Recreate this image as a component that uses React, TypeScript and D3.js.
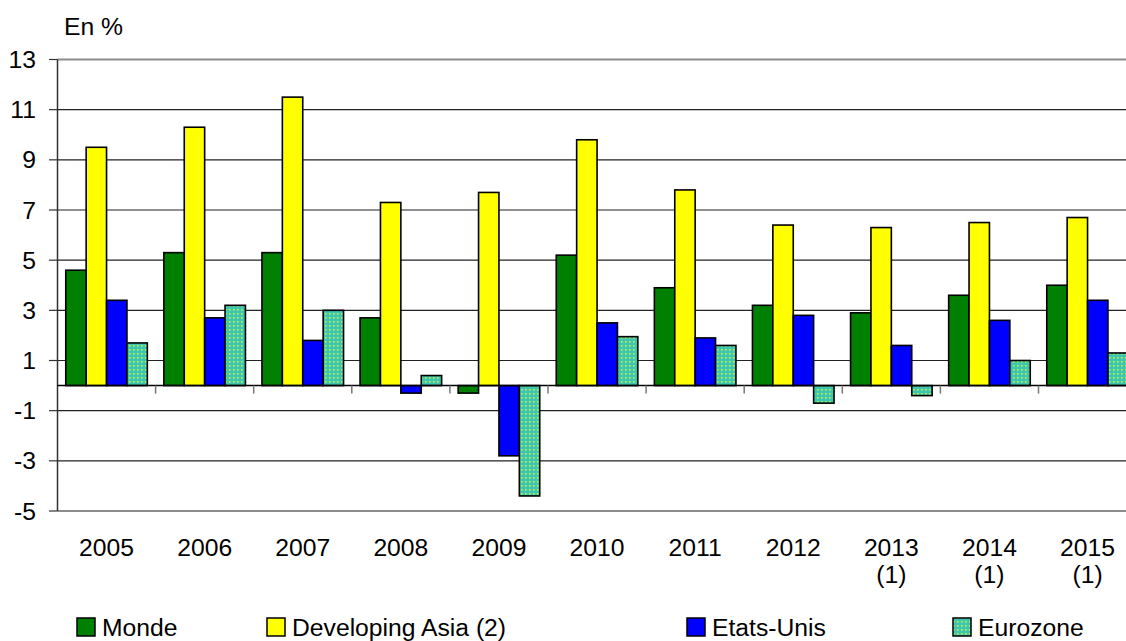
import React from "react";
import * as d3 from "d3";

const categories = ["2005", "2006", "2007", "2008", "2009", "2010", "2011", "2012", "2013", "2014", "2015"];
const categoryNotes = ["", "", "", "", "", "", "", "", "(1)", "(1)", "(1)"];
const seriesNames = ["Monde", "Developing Asia (2)", "Etats-Unis", "Eurozone"];
const monde = [4.6, 5.3, 5.3, 2.7, -0.3, 5.2, 3.9, 3.2, 2.9, 3.6, 4.0];
const developingAsia = [9.5, 10.3, 11.5, 7.3, 7.7, 9.8, 7.8, 6.4, 6.3, 6.5, 6.7];
const etatsUnis = [3.4, 2.7, 1.8, -0.3, -2.8, 2.5, 1.9, 2.8, 1.6, 2.6, 3.4];
const eurozone = [1.7, 3.2, 3.0, 0.4, -4.4, 1.95, 1.6, -0.7, -0.4, 1.0, 1.3];
const yTicks = [13, 11, 9, 7, 5, 3, 1, -1, -3, -5];

const seriesValues = [monde, developingAsia, etatsUnis, eurozone];
const seriesFills = ["#008000", "#FFFF00", "#0000FF", "url(#confetti)"];

const W = 1126;
const H = 641;
const FONT = "'Liberation Sans', Arial, sans-serif";
const FS = 24.7;

export default function App() {
  const plotLeft = 57.5;
  const step = 98.1;
  const x0 = d3
    .scaleBand<string>()
    .domain(categories)
    .range([plotLeft, plotLeft + step * categories.length])
    .padding(0);
  const bw = x0.bandwidth();
  const barW = bw / (4 + 0.81);
  const groupOffset = (bw - barW * 4) / 2;
  const y = d3.scaleLinear().domain([-5, 13]).range([511, 59.5]);
  const y0 = y(0);

  return (
    <svg
      width={W}
      height={H}
      style={{ position: "absolute", left: 0, top: 0, background: "#fff" }}
      fontFamily={FONT}
    >
      <defs>
        <pattern id="confetti" width={4} height={4} patternUnits="userSpaceOnUse">
          <rect width={4} height={4} fill="#3CC6B4" />
          <rect x={1} y={1} width={1.6} height={1.6} fill="#D0EE3A" />
        </pattern>
      </defs>
      <rect width={W} height={H} fill="#fff" />

      {yTicks.map((t) => (
        <line
          key={"g" + t}
          x1={plotLeft}
          x2={W}
          y1={y(t)}
          y2={y(t)}
          stroke={t === 13 || t === -5 ? "#8c8c8c" : "#222"}
          strokeWidth={t === 13 || t === -5 ? 2 : 1.2}
        />
      ))}

      <line x1={plotLeft} x2={plotLeft} y1={y(13)} y2={y(-5)} stroke="#333" strokeWidth={1.5} />
      {yTicks.map((t) => (
        <g key={"t" + t}>
          <line x1={49} x2={plotLeft} y1={y(t)} y2={y(t)} stroke="#333" strokeWidth={1.2} />
          <text x={36} y={y(t) + 8.5} textAnchor="end" fontSize={FS} fill="#000">
            {t}
          </text>
        </g>
      ))}
      <text x={64} y={35} fontSize={FS} fill="#000">
        En %
      </text>

      {seriesValues.map((vals, si) =>
        vals.map((v, ci) => {
          const bx = (x0(categories[ci]) as number) + groupOffset + si * barW;
          const top = Math.min(y(v), y0);
          const h = Math.abs(y(v) - y0);
          return (
            <rect
              key={si + "-" + ci}
              x={bx}
              y={top}
              width={barW}
              height={h}
              fill={seriesFills[si]}
              stroke="#000"
              strokeWidth={1.6}
            />
          );
        })
      )}

      <line x1={plotLeft} x2={W} y1={y0} y2={y0} stroke="#000" strokeWidth={1.5} />
      {categories.map((c, i) =>
        i === 0 ? null : (
          <line
            key={"ct" + c}
            x1={x0(c) as number}
            x2={x0(c) as number}
            y1={y0}
            y2={y0 + 8}
            stroke="#777"
            strokeWidth={1.5}
          />
        )
      )}
      {categories.map((c, i) => {
        const cx = (x0(c) as number) + bw / 2;
        return (
          <g key={"cl" + c}>
            <text x={cx} y={556} textAnchor="middle" fontSize={FS} fill="#000">
              {c}
            </text>
            {categoryNotes[i] && (
              <text x={cx} y={583} textAnchor="middle" fontSize={FS} fill="#000">
                {categoryNotes[i]}
              </text>
            )}
          </g>
        );
      })}

      {seriesNames.map((name, i) => {
        const boxX = [77, 267, 687, 953][i];
        return (
          <g key={"lg" + name}>
            <rect x={boxX} y={618} width={18} height={18} fill={seriesFills[i]} stroke="#000" strokeWidth={1.5} />
            <text x={boxX + 25} y={635.5} fontSize={FS} fill="#000">
              {name}
            </text>
          </g>
        );
      })}
    </svg>
  );
}
